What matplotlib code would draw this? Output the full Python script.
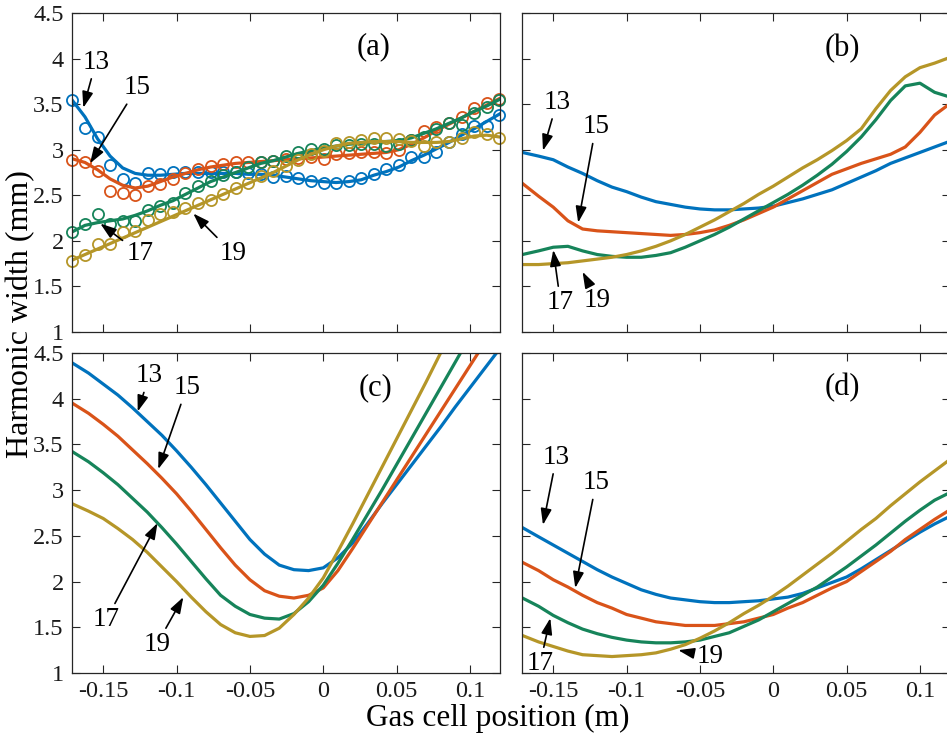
import numpy as np
import matplotlib
matplotlib.use('Agg')
import matplotlib.pyplot as plt
from matplotlib.ticker import FuncFormatter

plt.rcParams['font.family'] = ['Liberation Serif', 'DejaVu Serif']
plt.rcParams['axes.unicode_minus'] = False

# harmonic orders and colours
orders = ['13', '15', '17', '19']
colors = ['#0072BD', '#D95319', '#16845A', '#B59628']

# (a) measured points and fitted curves
x_meas = np.linspace(-0.171, 0.12, 35)
meas_13 = [3.55, 3.24, 3.14, 2.83, 2.68, 2.64, 2.74, 2.73, 2.76, 2.75, 2.76, 2.76,
           2.75, 2.75, 2.74, 2.73, 2.70, 2.71, 2.69, 2.66, 2.63, 2.64, 2.66, 2.69,
           2.73, 2.79, 2.83, 2.92, 2.92, 2.97, 3.08, 3.17, 3.26, 3.26, 3.38]
meas_15 = [2.89, 2.87, 2.77, 2.55, 2.52, 2.50, 2.60, 2.62, 2.68, 2.74, 2.79, 2.82,
           2.84, 2.87, 2.86, 2.86, 2.88, 2.90, 2.91, 2.92, 2.90, 2.95, 2.96, 2.97,
           2.97, 2.96, 3.00, 3.11, 3.21, 3.25, 3.29, 3.36, 3.46, 3.51, 3.56]
meas_17 = [2.10, 2.19, 2.30, 2.19, 2.22, 2.22, 2.34, 2.38, 2.42, 2.52, 2.60, 2.66,
           2.72, 2.75, 2.81, 2.86, 2.88, 2.93, 2.97, 3.01, 3.01, 3.05, 3.05, 3.06,
           3.06, 3.04, 3.06, 3.11, 3.14, 3.23, 3.29, 3.27, 3.40, 3.47, 3.55]
meas_19 = [1.78, 1.85, 1.97, 1.97, 2.10, 2.11, 2.23, 2.29, 2.32, 2.36, 2.41, 2.45,
           2.51, 2.58, 2.63, 2.71, 2.77, 2.82, 2.89, 2.95, 2.99, 3.07, 3.09, 3.11,
           3.13, 3.13, 3.12, 3.10, 3.04, 3.08, 3.08, 3.13, 3.19, 3.17, 3.13]
fit_13 = [3.54, 3.36, 3.12, 2.93, 2.80, 2.74, 2.72, 2.72, 2.73, 2.74, 2.74, 2.74,
          2.74, 2.74, 2.73, 2.73, 2.72, 2.70, 2.68, 2.66, 2.65, 2.64, 2.65, 2.67,
          2.72, 2.76, 2.81, 2.88, 2.94, 3.01, 3.08, 3.16, 3.23, 3.31, 3.39]
fit_15 = [2.90, 2.86, 2.78, 2.68, 2.61, 2.58, 2.60, 2.65, 2.70, 2.74, 2.78, 2.81,
          2.83, 2.85, 2.86, 2.87, 2.88, 2.89, 2.90, 2.91, 2.92, 2.93, 2.94, 2.95,
          2.96, 2.97, 3.00, 3.06, 3.13, 3.21, 3.28, 3.35, 3.42, 3.49, 3.56]
fit_17 = [2.10, 2.17, 2.20, 2.22, 2.24, 2.28, 2.33, 2.39, 2.44, 2.51, 2.58, 2.65,
          2.70, 2.75, 2.80, 2.85, 2.88, 2.92, 2.96, 2.99, 3.02, 3.04, 3.06, 3.07,
          3.08, 3.09, 3.10, 3.13, 3.18, 3.23, 3.29, 3.35, 3.42, 3.48, 3.55]
fit_19 = [1.79, 1.85, 1.91, 1.97, 2.03, 2.09, 2.15, 2.21, 2.27, 2.33, 2.39, 2.45,
          2.51, 2.57, 2.63, 2.69, 2.75, 2.82, 2.89, 2.95, 3.00, 3.04, 3.07, 3.08,
          3.09, 3.09, 3.09, 3.08, 3.08, 3.08, 3.09, 3.12, 3.15, 3.16, 3.14]

# (b)-(d) simulated widths on a 1 cm grid
x_sim = np.round(np.arange(-0.17, 0.1205, 0.01), 2)
x_sim[0] = -0.171
b_13 = [2.97, 2.93, 2.89, 2.81, 2.74, 2.66, 2.59, 2.54, 2.48, 2.43, 2.40, 2.37,
        2.35, 2.34, 2.34, 2.35, 2.36, 2.38, 2.42, 2.46, 2.51, 2.56, 2.63, 2.70,
        2.77, 2.85, 2.91, 2.97, 3.03, 3.09]
b_15 = [2.63, 2.49, 2.37, 2.22, 2.13, 2.11, 2.10, 2.09, 2.08, 2.07, 2.06, 2.07,
        2.09, 2.12, 2.17, 2.23, 2.30, 2.37, 2.46, 2.55, 2.64, 2.73, 2.79, 2.85,
        2.90, 2.95, 3.03, 3.19, 3.38, 3.50]
b_17 = [1.85, 1.89, 1.93, 1.94, 1.89, 1.85, 1.83, 1.82, 1.82, 1.84, 1.87, 1.93,
        2.00, 2.07, 2.15, 2.24, 2.33, 2.42, 2.51, 2.61, 2.72, 2.84, 2.98, 3.14,
        3.33, 3.54, 3.70, 3.73, 3.63, 3.58]
b_19 = [1.74, 1.74, 1.75, 1.76, 1.78, 1.80, 1.82, 1.85, 1.89, 1.94, 2.00, 2.07,
        2.15, 2.23, 2.32, 2.41, 2.51, 2.60, 2.70, 2.80, 2.89, 2.99, 3.10, 3.23,
        3.45, 3.65, 3.80, 3.90, 3.95, 4.01]

c_13 = [4.39, 4.28, 4.16, 4.04, 3.90, 3.75, 3.60, 3.43, 3.25, 3.06, 2.86, 2.66,
        2.46, 2.30, 2.18, 2.13, 2.12, 2.15, 2.26, 2.42, 2.63, 2.85, 3.06, 3.27,
        3.48, 3.69, 3.91, 4.12, 4.33, 4.54]
c_15 = [3.95, 3.84, 3.72, 3.59, 3.44, 3.29, 3.13, 2.96, 2.77, 2.57, 2.37, 2.18,
        2.02, 1.90, 1.84, 1.82, 1.85, 1.93, 2.12, 2.36, 2.61, 2.86, 3.11, 3.36,
        3.61, 3.86, 4.11, 4.36, 4.61]
c_17 = [3.42, 3.31, 3.19, 3.06, 2.91, 2.76, 2.59, 2.41, 2.22, 2.03, 1.85, 1.73,
        1.64, 1.60, 1.59, 1.65, 1.78, 1.96, 2.20, 2.46, 2.73, 3.00, 3.28, 3.56,
        3.84, 4.12, 4.40, 4.68]
c_19 = [2.85, 2.77, 2.69, 2.58, 2.46, 2.32, 2.16, 2.00, 1.83, 1.67, 1.53, 1.44,
        1.40, 1.41, 1.49, 1.64, 1.82, 2.04, 2.33, 2.63, 2.94, 3.25, 3.56, 3.87,
        4.18, 4.50, 4.82]

d_13 = [2.59, 2.49, 2.40, 2.31, 2.22, 2.13, 2.05, 1.98, 1.91, 1.86, 1.82, 1.80,
        1.78, 1.77, 1.77, 1.78, 1.79, 1.81, 1.83, 1.87, 1.93, 1.99, 2.05, 2.14,
        2.24, 2.34, 2.44, 2.54, 2.63, 2.71]
d_15 = [2.21, 2.12, 2.02, 1.94, 1.85, 1.77, 1.71, 1.64, 1.60, 1.56, 1.54, 1.52,
        1.52, 1.52, 1.54, 1.56, 1.60, 1.64, 1.71, 1.77, 1.85, 1.93, 2.00, 2.11,
        2.22, 2.33, 2.46, 2.57, 2.68, 2.78]
d_17 = [1.82, 1.73, 1.63, 1.55, 1.48, 1.43, 1.39, 1.36, 1.34, 1.33, 1.33, 1.34,
        1.36, 1.40, 1.44, 1.51, 1.58, 1.67, 1.76, 1.85, 1.94, 2.05, 2.16, 2.28,
        2.40, 2.53, 2.66, 2.78, 2.89, 2.97]
d_19 = [1.41, 1.34, 1.29, 1.24, 1.20, 1.19, 1.18, 1.19, 1.20, 1.22, 1.26, 1.31,
        1.38, 1.46, 1.55, 1.65, 1.74, 1.84, 1.95, 2.07, 2.19, 2.31, 2.44, 2.57,
        2.69, 2.83, 2.96, 3.09, 3.21, 3.33]

# label text position and arrow tip for each order, per panel
notes_a = [((-0.155, 3.96), (-0.1636, 3.46)), ((-0.127, 3.68), (-0.159, 2.85)),
           ((-0.125, 1.86), (-0.152, 2.19)), ((-0.0615, 1.86), (-0.0886, 2.30))]
notes_b = [((-0.1475, 3.52), (-0.157, 2.99)), ((-0.121, 3.25), (-0.133, 2.20)),
           ((-0.145, 1.32), (-0.150, 1.90)), ((-0.120, 1.35), (-0.130, 1.66))]
notes_c = [((-0.1186, 4.25), (-0.1265, 3.86)), ((-0.0931, 4.12), (-0.1125, 3.23)),
           ((-0.148, 1.58), (-0.113, 2.64)), ((-0.1136, 1.31), (-0.0954, 1.83))]
notes_d = [((-0.1478, 3.36), (-0.157, 2.62)), ((-0.1208, 3.08), (-0.135, 1.93)),
           ((-0.159, 1.10), (-0.152, 1.60)), ((-0.0432, 1.18), (-0.0648, 1.25))]

fig = plt.figure(figsize=(9.47, 7.45), dpi=100)
W, H = 947.0, 745.0
boxes = {'a': (72, 13, 428, 319), 'b': (522, 13, 428, 319),
         'c': (72, 353, 428, 320), 'd': (522, 353, 428, 320)}
axes = {}
for k, (l, t, w, h) in boxes.items():
    axes[k] = fig.add_axes([l / W, 1 - (t + h) / H, w / W, h / H])

lw = 2.3
ax = axes['a']
for fit, meas, c in zip([fit_13, fit_15, fit_17, fit_19],
                        [meas_13, meas_15, meas_17, meas_19], colors):
    ax.plot(x_meas, meas, 'o', mfc='none', mec=c, ms=8, mew=1.3, clip_on=False)
    ax.plot(x_meas, fit, '-', color=c, lw=lw)

for key, sets in zip(['b', 'c', 'd'], [[b_13, b_15, b_17, b_19],
                                      [c_13, c_15, c_17, c_19],
                                      [d_13, d_15, d_17, d_19]]):
    for y, c in zip(sets, colors):
        axes[key].plot(x_sim[:len(y)], y, '-', color=c, lw=lw)

labels = {'a': (0.0342, 4.13), 'b': (0.0473, 4.11), 'c': (0.0353, 4.12), 'd': (0.0473, 4.12)}
notes = {'a': notes_a, 'b': notes_b, 'c': notes_c, 'd': notes_d}

for k, ax in axes.items():
    ax.set_xlim(-0.1713, 0.1205)
    ax.set_ylim(1, 4.5)
    ax.set_xticks([-0.15, -0.1, -0.05, 0, 0.05, 0.1])
    ax.set_yticks(np.arange(1, 4.51, 0.5))
    ax.tick_params(direction='in', top=True, right=True, length=6, width=0.8,
                   color='#262626', labelsize=17.5, labelcolor='#1a1a1a', pad=6)
    ax.xaxis.set_major_formatter(FuncFormatter(lambda v, p: '0' if abs(v) < 1e-9 else '%g' % v))
    ax.yaxis.set_major_formatter(FuncFormatter(lambda v, p: '%g' % v))
    for s in ax.spines.values():
        s.set_color('#262626')
        s.set_linewidth(0.9)
    if k in ('a', 'b'):
        ax.tick_params(labelbottom=False)
    if k in ('b', 'd'):
        ax.tick_params(labelleft=False)
    ax.text(*labels[k], '(%s)' % k, fontsize=22, ha='center', va='center')
    for name, (txt, tip) in zip(orders, notes[k]):
        ax.annotate(name, xy=tip, xytext=txt, fontsize=19.5, ha='center', va='center',
                    arrowprops=dict(arrowstyle='-|>,head_length=0.5,head_width=0.17',
                                    color='k', lw=1.2, shrinkA=1, shrinkB=0))

fig.text(21 / W, 0.578, 'Harmonic width (mm)', rotation=90, fontsize=23,
         ha='center', va='center')
fig.text(498 / W, 1 - 718 / H, 'Gas cell position (m)', fontsize=22.5,
         ha='center', va='center')

fig.savefig('out.png', dpi=100)
